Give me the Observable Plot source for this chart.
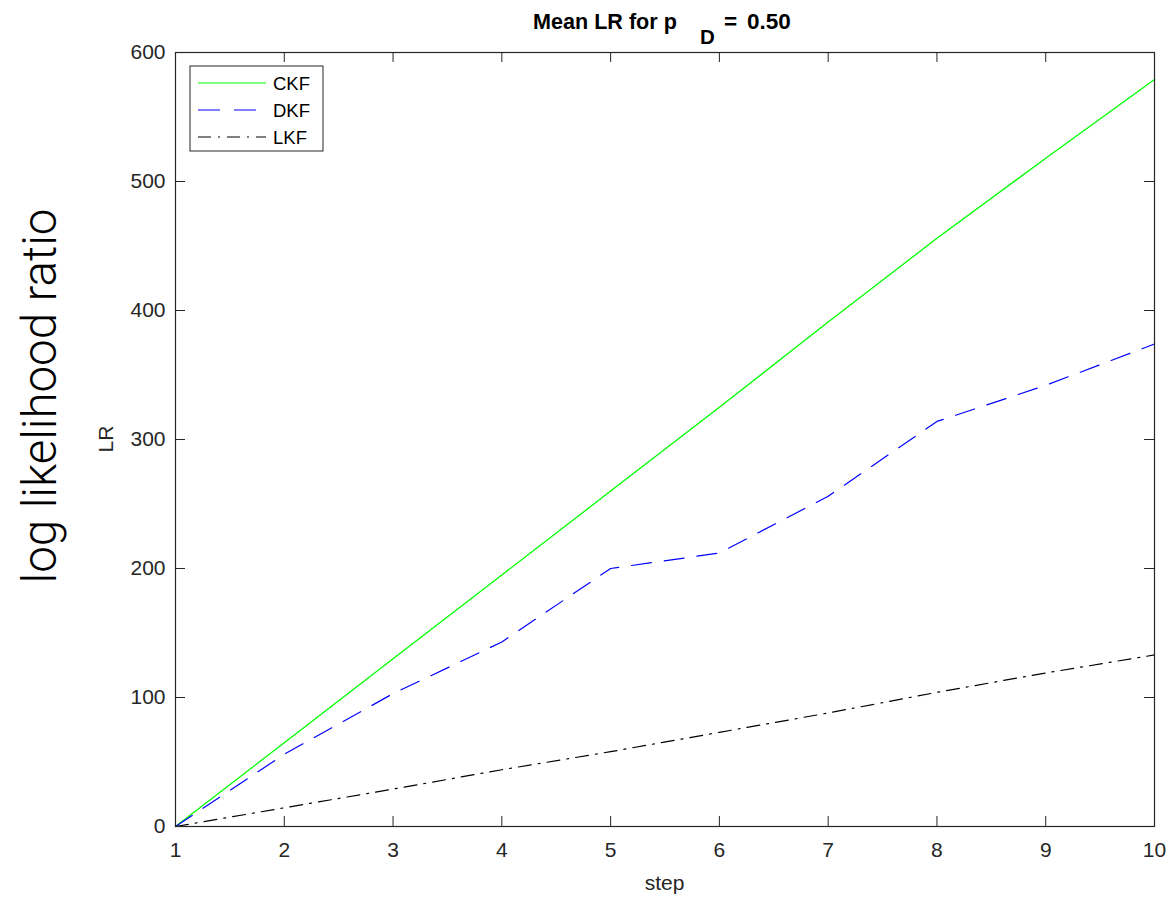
<!DOCTYPE html>
<html>
<head>
<meta charset="utf-8">
<script src="https://cdn.jsdelivr.net/npm/d3@7"></script>
<script src="https://cdn.jsdelivr.net/npm/@observablehq/plot@0.6"></script>
<style>
  html, body { margin: 0; padding: 0; background: #fff; }
</style>
</head>
<body>
<div id="chart"></div>
<script>
const steps = [1, 2, 3, 4, 5, 6, 7, 8, 9, 10];
const ckf = [0, 65, 130, 195, 260, 325, 391, 456, 518, 579];
const dkf = [0, 56, 103, 143, 200, 212, 256, 314, 342, 374];
const lkf = [0, 14.5, 29, 44, 58, 73, 88, 104, 119, 133];
const seriesNames = ["CKF", "DKF", "LKF"];
const seriesColors = ["#00ff00", "#0000ff", "#000000"];
const seriesDash = [null, "20,13", "13,7,2,7"];
const xTicks = [1, 2, 3, 4, 5, 6, 7, 8, 9, 10];
const yTicks = [0, 100, 200, 300, 400, 500, 600];

const W = 1172, H = 897;
const mTop = 52, mRight = 18, mBottom = 71, mLeft = 175;
const plotH = H - mTop - mBottom;
const plotW = W - mLeft - mRight;
const axisColor = "#262626";

const seriesVals = [ckf, dkf, lkf];
const rows = [];
seriesNames.forEach((name, i) => {
  steps.forEach((s, j) => rows.push({step: s, value: seriesVals[i][j], series: name}));
});

const lineMarks = seriesNames.map((name, i) => Plot.line(rows.filter(r => r.series === name), {
  x: "step", y: "value",
  stroke: seriesColors[i],
  strokeWidth: i === 0 ? 1.3 : 1.2,
  strokeDasharray: seriesDash[i] || undefined
}));

const chart = Plot.plot({
  width: W, height: H,
  marginTop: mTop, marginRight: mRight, marginBottom: mBottom, marginLeft: mLeft,
  style: "font-family: 'Liberation Sans', Arial, Helvetica, sans-serif; font-size: 21px; background: #fff; color: #262626;",
  x: {domain: [1, 10]},
  y: {domain: [0, 600]},
  marks: [
    Plot.axisX({ticks: xTicks, tickSize: 0, tickPadding: 16, label: null, tickFormat: d => String(d)}),
    Plot.axisY({ticks: yTicks, tickSize: 0, tickPadding: 10, label: null, tickFormat: d => String(d)}),
    Plot.tickX(xTicks, {x: d => d, stroke: axisColor, insetTop: plotH - 10}),
    Plot.tickX(xTicks, {x: d => d, stroke: axisColor, insetBottom: plotH - 10}),
    Plot.tickY(yTicks, {y: d => d, stroke: axisColor, insetRight: plotW - 10}),
    Plot.tickY(yTicks, {y: d => d, stroke: axisColor, insetLeft: plotW - 10}),
    ...lineMarks,
    Plot.frame({stroke: axisColor, strokeWidth: 1.2})
  ]
});

document.getElementById("chart").appendChild(chart);

const svg = d3.select(chart);
const font = "'Liberation Sans', Arial, Helvetica, sans-serif";

function fitFont(sel, target, base) {
  const len = sel.node().getComputedTextLength();
  if (len > 0) {
    const f = Math.max(base * 0.85, Math.min(base * 1.15, base * target / len));
    sel.attr("font-size", f);
  }
}

// Title with subscript (pieces placed like the MATLAB TeX layout)
function titlePart(x, y, size, str) {
  return svg.append("text").attr("x", x).attr("y", y).attr("text-anchor", "start")
    .attr("font-family", font).attr("font-weight", "bold").attr("font-size", size)
    .attr("fill", "#000").text(str);
}
const t1 = titlePart(533, 29, 21.5, "Mean LR for p");
fitFont(t1, 144, 21.5);
titlePart(700, 44, 20.5, "D");
titlePart(724, 29, 22.5, "=");
titlePart(747, 29, 22.5, "0.50");

// axis labels
svg.append("text")
  .attr("x", mLeft + plotW / 2).attr("y", 890)
  .attr("text-anchor", "middle")
  .attr("font-family", font).attr("font-size", 21).attr("fill", axisColor)
  .text("step");

svg.append("text")
  .attr("transform", `translate(113, ${mTop + plotH / 2}) rotate(-90)`)
  .attr("text-anchor", "middle")
  .attr("font-family", font).attr("font-size", 21).attr("fill", axisColor)
  .text("LR");

// big outer label
const big = svg.append("text")
  .attr("transform", `translate(56, 396) rotate(-90)`)
  .attr("text-anchor", "middle")
  .attr("font-family", "Roboto, 'Open Sans', sans-serif")
  .attr("font-weight", 300)
  .attr("font-size", 47.5)
  .attr("fill", "#000")
  .text("log likelihood ratio");
fitFont(big, 375, 47.5);

// legend
const lg = svg.append("g");
lg.append("rect")
  .attr("x", 190).attr("y", 66).attr("width", 133).attr("height", 85)
  .attr("fill", "#fff").attr("stroke", axisColor).attr("stroke-width", 1);
const ly = [83, 110, 137];
seriesNames.forEach((name, i) => {
  lg.append("line")
    .attr("x1", 198).attr("x2", 266).attr("y1", ly[i]).attr("y2", ly[i])
    .attr("stroke", seriesColors[i]).attr("stroke-width", 1.2)
    .attr("stroke-dasharray", i === 1 ? "22,14" : (seriesDash[i] || null));
  lg.append("text")
    .attr("x", 273).attr("y", ly[i]).attr("dy", "0.36em")
    .attr("text-anchor", "start")
    .attr("font-family", font).attr("font-size", 18.5).attr("fill", "#000")
    .text(name);
});
</script>
</body>
</html>
